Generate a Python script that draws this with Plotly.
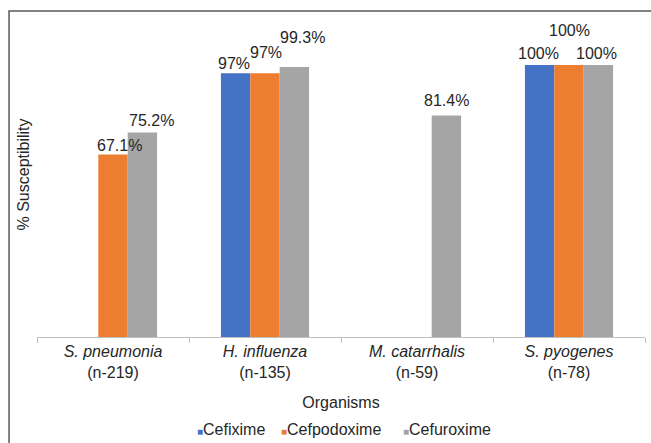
import plotly.graph_objects as go

organisms = ["S. pneumonia", "H. influenza", "M. catarrhalis", "S. pyogenes"]
counts = ["(n-219)", "(n-135)", "(n-59)", "(n-78)"]
series_names = ["Cefixime", "Cefpodoxime", "Cefuroxime"]
cefixime = [None, 97, None, 100]
cefpodoxime = [67.1, 97, None, 100]
cefuroxime = [75.2, 99.3, 81.4, 100]
label_text = [
    [None, "97%", None, "100%"],
    ["67.1%", "97%", None, "100%"],
    ["75.2%", "99.3%", "81.4%", "100%"],
]
colors = ["#4472C4", "#ED7D31", "#A5A5A5"]

# label placement offsets (pixels) mimicking the original label layout
label_dx = [[0, -1.5, 0, -1.5], [6, 1, 0, 0], [9.5, 8.5, 0, -2]]
label_dy = [[0, 10, 0, 12], [9.5, 21, 0, 35], [11.5, 29, 15.5, 12]]
# legend item left edges (pixels)
legend_px = [195, 279, 401]

values = [cefixime, cefpodoxime, cefuroxime]
font = "Liberation Sans, Arial, sans-serif"
txt_color = "#262626"

fig = go.Figure()
for name, vals, col in zip(series_names, values, colors):
    fig.add_trace(go.Bar(name=name, x=organisms, y=vals, showlegend=False,
                         marker=dict(color=col, line=dict(width=0))))

bar_w = 29.4
annotations = []
for i, vals in enumerate(values):
    for j, v in enumerate(vals):
        if v is None:
            continue
        annotations.append(dict(
            x=organisms[j], y=v, xref="x", yref="y", text=label_text[i][j],
            showarrow=False, xanchor="center", yanchor="middle",
            xshift=(i - 1) * bar_w + label_dx[i][j], yshift=label_dy[i][j],
            font=dict(family=font, size=16, color=txt_color),
        ))

# compact legend, Excel style (square marker right before each name)
for n, c, px in zip(series_names, colors, legend_px):
    annotations.append(dict(
        x=(px - 37) / 608, y=-0.286, xref="paper", yref="paper",
        text=f'<span style="color:{c};font-size:10px">■</span>{n}', showarrow=False,
        xanchor="left", yanchor="middle", font=dict(family=font, size=16, color=txt_color),
    ))

ticktext = [f"<i>{o}</i><br>{c}" for o, c in zip(organisms, counts)]

fig.update_layout(
    width=651, height=443,
    margin=dict(l=37, r=6, t=12, b=106, autoexpand=False),
    paper_bgcolor="white", plot_bgcolor="white",
    barmode="group", bargap=0.42, bargroupgap=0,
    font=dict(family=font, size=16, color=txt_color),
    showlegend=False,
    annotations=annotations,
    shapes=[dict(type="rect", xref="paper", yref="paper", x0=-0.046, x1=1.2, y0=-0.5, y1=1.003,
                 line=dict(color="#595959", width=1.5), fillcolor="rgba(0,0,0,0)", layer="above")],
)
fig.update_xaxes(
    tickmode="array", tickvals=organisms, ticktext=ticktext, automargin=False,
    showline=True, linecolor="#BFBFBF", linewidth=1,
    ticks="outside", tickson="boundaries", ticklen=5, tickcolor="#BFBFBF",
    tickfont=dict(family=font, size=16, color=txt_color),
    title=dict(text="Organisms", font=dict(family=font, size=16, color=txt_color), standoff=16),
    showgrid=False, zeroline=False,
)
fig.update_yaxes(
    range=[0, 119.5], showticklabels=False, showgrid=False, zeroline=False, showline=False,
    ticks="", automargin=False,
    title=dict(text="% Susceptibility", font=dict(family=font, size=16, color=txt_color), standoff=2),
)
fig.write_html("out.html", config={"displayModeBar": False},
               post_script="document.body.style.margin='0px';document.body.style.overflow='hidden';")
